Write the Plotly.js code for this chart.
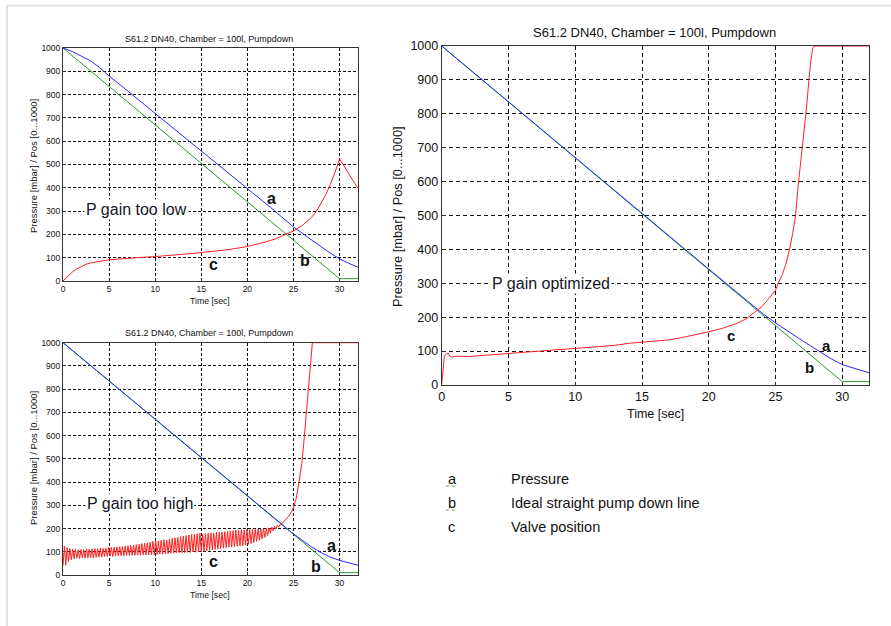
<!DOCTYPE html>
<html>
<head>
<meta charset="utf-8">
<script src="https://cdn.plot.ly/plotly-3.0.1.min.js"></script>
<style>html,body{margin:0;padding:0;background:#fff;}#chart{width:891px;height:626px;}</style>
</head>
<body>
<div id="chart"></div>
<script>
// ---------- data ----------
const chartTitle = 'S61.2 DN40, Chamber = 100l, Pumpdown';
const xTitle = 'Time [sec]';
const yTitle = 'Pressure [mbar] / Pos [0...1000]';
const xTicks = [0, 5, 10, 15, 20, 25, 30];
const yTicks = [0, 100, 200, 300, 400, 500, 600, 700, 800, 900, 1000];

// ideal straight pump down line (b), same in all panels
const idealTime = [0, 30, 32];
const idealLine = [1000, 10, 10];

// Panel 1: P gain too low
const lowTime = [0, 1, 2, 3, 4, 5, 7.5, 10, 12.5, 15, 17.5, 20, 22.5, 25, 26, 27, 28, 29, 30, 31, 32];
const lowPressure = [1000, 985, 965, 945, 915, 880, 800, 719, 640, 561, 480, 396, 316, 232, 203, 174, 147, 120, 95, 76, 59];
const lowValveTime = [0, 0.5, 1, 1.5, 2, 2.5, 3, 4, 5, 6, 7, 8, 10, 12, 14, 15, 16, 18, 20, 21, 22, 23, 24, 25, 26, 27, 27.5, 28, 28.5, 29, 29.5, 30, 30.5, 31, 31.5, 32];
const lowValve = [0, 20, 38, 52, 63, 72, 78, 86, 91, 94, 98, 100, 105, 110, 118, 122, 126, 135, 148, 157, 168, 180, 196, 215, 240, 275, 300, 335, 370, 415, 465, 525, 495, 460, 428, 398];

// Panel 2: P gain too high
const highTime = [0, 5, 10, 15, 20, 23, 24, 25, 26, 27, 28, 29, 30, 31, 32];
const highPressure = [1000, 835, 670, 505, 340, 241, 208, 177, 148, 120, 96, 77, 63, 52, 42];
const highValveStart = 0;      // first sample time [sec]
const highValveStep = 0.15;    // sample interval [sec]
const highValveOsc = [
  40,125,42,118,58,114,66,112,70,110,72,108,71,110,73,109,72,112,74,111,
  75,113,74,114,76,113,77,116,77,115,79,117,80,118,81,119,80,120,82,121,
  82,122,83,123,83,125,84,126,84,128,85,129,85,131,86,133,85,135,87,137,
  86,139,86,141,87,145,87,148,88,146,90,150,89,152,91,150,92,155,93,158,
  94,160,95,162,96,165,97,168,96,170,98,172,97,174,99,176,98,178,100,180,
  99,176,102,178,104,180,106,182,108,180,110,183,112,185,114,184,116,186,118,188,
  120,190,121,191,122,193,124,192,125,195,126,194,128,196,132,196,136,197,140,197,
  145,198,150,198,155,199,162,201,170,203,180,206,190,210,198,214,206,218,218,226
];
const highValveTailTime = [23.85, 24.2, 24.6, 25.0, 25.3, 25.6, 25.9, 26.1, 26.4, 26.6, 26.8, 26.95, 27.05, 32];
const highValveTail = [226, 240, 258, 290, 330, 400, 480, 560, 700, 800, 910, 975, 1000, 1000];

// Panel 3: P gain optimized
const optTime = [0, 5, 10, 15, 20, 22, 23, 24, 25, 26, 27, 28, 29, 30, 31, 32];
const optPressure = [1000, 835, 670, 505, 342, 277, 244, 212, 183, 156, 131, 106, 81, 60, 47, 36];
const optValveTime = [0, 0.1, 0.2, 0.35, 0.5, 0.6, 0.75, 1, 2, 3, 4, 5, 6, 8, 10, 12, 13, 14, 15, 16, 17, 18, 19, 20, 21, 22, 22.8, 23.5, 24, 24.5, 25, 25.2, 25.5, 25.8, 26.05, 26.3, 26.5, 26.7, 26.9, 27.06, 27.3, 27.5, 27.65, 27.8, 27.9, 32];
const optValve = [0, 50, 85, 92, 94, 86, 82, 85, 84, 87, 90, 92, 94, 100, 106, 112, 117, 123, 126, 128, 133, 140, 148, 157, 167, 180, 195, 215, 232, 255, 280, 300, 325, 360, 400, 450, 500, 590, 660, 720, 810, 900, 960, 995, 1000, 1000];

// labels
const panelNotes = ['P gain too low', 'P gain too high', 'P gain optimized'];
const curveLetters = ['a', 'b', 'c'];
const legendTexts = ['Pressure', 'Ideal straight pump down line', 'Valve position'];

// ---------- drawing ----------
const W = 891, H = 626;
const px = x => x / W;
const py = y => 1 - y / H;

const BLUE = '#2a2aff', GREEN = '#2e962e', RED = '#ff2020';

function line(x, y, color, ax) {
  const t = {y: y, type: 'scatter', mode: 'lines', line: {color: color, width: 1},
          xaxis: 'x' + ax, yaxis: 'y' + ax, hoverinfo: 'skip', showlegend: false};
  if (x !== null) t.x = x;
  return t;
}

const traces = [
  line(idealTime, idealLine, GREEN, ''),
  line(lowTime, lowPressure, BLUE, ''),
  line(lowValveTime, lowValve, RED, ''),

  line(idealTime, idealLine, GREEN, '2'),
  line(highTime, highPressure, BLUE, '2'),
  Object.assign(line(null, highValveOsc, RED, '2'), {x0: highValveStart, dx: highValveStep}),
  line(highValveTailTime, highValveTail, RED, '2'),

  line(idealTime, idealLine, GREEN, '3'),
  line(optTime, optPressure, BLUE, '3'),
  line(optValveTime, optValve, RED, '3')
];

function axis(dom, anchor, fs, dash, range, vals) {
  return {domain: dom, anchor: anchor, range: range, tickvals: vals, showline: true, mirror: true,
          linecolor: '#333', linewidth: 1, showgrid: true, gridcolor: '#111', gridwidth: 1, griddash: dash,
          zeroline: false, ticks: 'inside', ticklen: 3, tickcolor: '#333', layer: 'below traces',
          tickfont: {family: 'Arial, Liberation Sans', size: fs, color: '#111'}, fixedrange: true};
}
const xax = (d, a, f, s) => axis(d, a, f, s, [0, 32], xTicks);
const yax = (d, a, f, s) => axis(d, a, f, s, [0, 1000], yTicks);

const dom1x = [px(63), px(358)], dom1y = [py(281), py(48)];
const dom2x = [px(63), px(358)], dom2y = [py(575), py(342.7)];
const dom3x = [px(441.7), px(869)], dom3y = [py(385), py(46)];

const F = 'Arial, Liberation Sans';
function ptxt(text, x, y, size, extra) {
  return Object.assign({text: text, xref: 'paper', yref: 'paper', x: px(x), y: py(y), showarrow: false,
          font: {family: F, size: size, color: '#111'}, xanchor: 'center', yanchor: 'middle'}, extra || {});
}
function dtxt(text, ax, x, y, size, bold) {
  const a = {text: bold ? '<b>' + text + '</b>' : text, xref: 'x' + ax, yref: 'y' + ax, x: x, y: y, showarrow: false,
          font: {family: F, size: size, color: bold ? '#111' : '#161628'}, xanchor: 'center', yanchor: 'middle'};
  if (!bold) { a.bgcolor = '#fff'; a.borderpad = 1; }
  return a;
}

const annotations = [
  // panel titles
  ptxt(chartTitle, 209, 39, 9),
  ptxt(chartTitle, 209, 333, 9),
  ptxt(chartTitle, 654, 32, 13),
  // x titles
  ptxt(xTitle, 210, 301, 8.7),
  ptxt(xTitle, 210, 595, 8.7),
  ptxt(xTitle, 655, 414, 12.5),
  // y titles
  ptxt(yTitle, 33, 166, 9.5, {textangle: -90}),
  ptxt(yTitle, 33, 458, 9.5, {textangle: -90}),
  ptxt(yTitle, 397, 217, 12.8, {textangle: -90}),
  // panel notes
  dtxt(panelNotes[0], '', 8.0, 307, 16, false),
  dtxt(panelNotes[1], '2', 8.4, 307, 16, false),
  dtxt(panelNotes[2], '3', 8.2, 300, 16, false),
  // curve letters
  dtxt(curveLetters[0], '', 22.6, 354, 16, true),
  dtxt(curveLetters[1], '', 26.2, 86, 16, true),
  dtxt(curveLetters[2], '', 16.3, 71, 16, true),
  dtxt(curveLetters[0], '2', 29.1, 125, 16, true),
  dtxt(curveLetters[1], '2', 27.4, 36, 16, true),
  dtxt(curveLetters[2], '2', 16.3, 57, 16, true),
  dtxt(curveLetters[0], '3', 28.8, 118, 15, true),
  dtxt(curveLetters[1], '3', 27.55, 51, 15, true),
  dtxt(curveLetters[2], '3', 21.7, 145, 15, true)
];
const legendY = [479, 503, 527];
for (let i = 0; i < 3; i++) {
  annotations.push(ptxt(curveLetters[i], 446, legendY[i], 14.5, {xanchor: 'left'}));
  annotations.push(ptxt(legendTexts[i], 509, legendY[i], 14.5, {xanchor: 'left'}));
}

const shapes = [
  {type: 'line', xref: 'paper', yref: 'paper', x0: px(7), x1: 1, y0: py(5.5), y1: py(5.5), line: {color: '#e2e2e2', width: 2}},
  {type: 'line', xref: 'paper', yref: 'paper', x0: px(7), x1: px(7), y0: py(5), y1: 0, line: {color: '#e2e2e2', width: 2}},
  {type: 'line', xref: 'paper', yref: 'paper', x0: px(446), x1: px(456), y0: py(486), y1: py(486), line: {color: '#6aa84f', width: 1, dash: 'dot'}},
  {type: 'line', xref: 'paper', yref: 'paper', x0: px(446), x1: px(456), y0: py(510), y1: py(510), line: {color: '#6aa84f', width: 1, dash: 'dot'}}
];

const layout = {
  width: W, height: H, margin: {l: 0, r: 0, t: 0, b: 0},
  paper_bgcolor: '#fff', plot_bgcolor: '#fff', showlegend: false,
  xaxis: xax(dom1x, 'y', 8.5, '3px,2px'), yaxis: yax(dom1y, 'x', 8.5, '3px,2px'),
  xaxis2: xax(dom2x, 'y2', 8.5, '3px,2px'), yaxis2: yax(dom2y, 'x2', 8.5, '3px,2px'),
  xaxis3: xax(dom3x, 'y3', 12.5, '4px,3px'), yaxis3: yax(dom3y, 'x3', 12.5, '4px,3px'),
  annotations: annotations, shapes: shapes
};

Plotly.newPlot('chart', traces, layout, {staticPlot: true, displayModeBar: false});
</script>
</body>
</html>
